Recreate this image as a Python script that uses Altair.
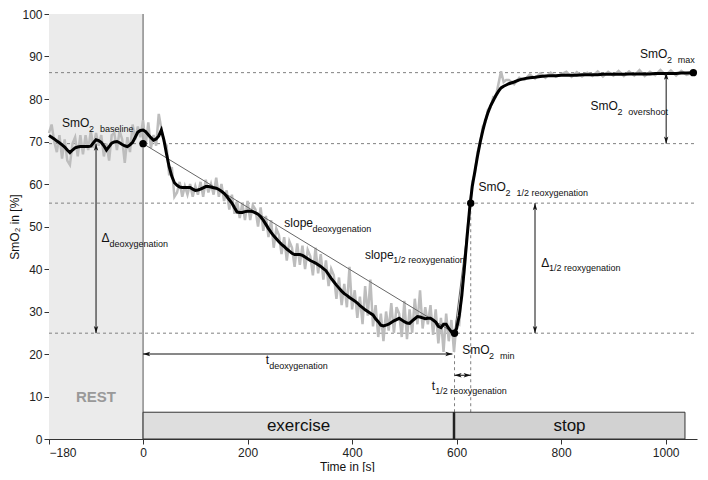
import altair as alt
import pandas as pd

XMIN, XMAX = -180, 1060
TOTAL_W, TOTAL_H = 692, 464
W, H = 657, 423  # approximate plot-area size, used only for subscript offsets

# ---------------- data ----------------
time_s = list(range(-180, 700, 5)) + list(range(700, 1050, 10)) + [1053]

smo2_smooth = [
    71.4, 71.0, 70.6, 70.1, 69.7, 69.2, 68.7, 68.0, 67.4, 68.0,
    68.5, 68.7, 68.8, 68.8, 68.8, 68.8, 68.9, 69.7, 70.4, 70.2,
    69.8, 69.0, 68.0, 68.8, 69.6, 69.9, 70.0, 69.7, 69.3, 69.0,
    68.8, 69.2, 69.8, 71.0, 72.2, 72.6, 72.7,
    72.3, 71.6, 70.9, 70.3, 70.6, 71.3, 72.7, 70.3, 67.0, 64.0, 61.8, 60.3,
    59.7, 59.3, 59.2, 59.2, 59.2, 59.2, 58.8, 58.5, 58.6, 58.8,
    59.1, 59.4, 59.4, 59.3, 59.1, 59.0, 58.7, 58.3, 57.8, 57.1,
    56.3, 55.5, 54.4, 53.4, 53.3, 53.3, 53.5, 53.6,
    53.6, 53.5, 53.2, 52.9, 52.3, 51.5, 50.5, 49.5, 48.6, 47.8,
    47.1, 46.4, 45.8, 45.3, 44.7, 44.2, 43.7, 43.4, 43.4, 43.4,
    43.2, 42.8, 42.4, 42.0, 41.7, 41.4, 41.0, 40.6, 40.1, 39.6,
    38.7, 37.8, 37.0, 36.2, 35.5, 34.8, 34.2, 33.8, 33.3, 32.9,
    32.5, 32.0, 31.4, 30.9, 30.4, 30.0, 29.6, 29.2, 28.3, 27.6,
    26.8, 26.6, 26.8, 27.0, 27.4, 27.8, 28.1, 28.4, 28.0, 27.6,
    27.3, 27.2, 27.8, 28.3, 28.8, 28.7, 28.5, 28.3, 28.4, 28.4,
    28.0, 27.5, 26.5, 26.2, 27.0, 27.0, 26.0, 25.2, 24.8, 26.0,
    29.0, 33.8, 40.5, 47.5, 54.3, 59.5, 63.0, 66.6, 69.8, 72.5,
    74.9, 76.8, 78.4, 79.6, 80.8, 81.8, 82.6, 83.0, 83.3,
    83.6, 84.0, 84.5, 84.8, 85.0, 85.1, 85.3, 85.4, 85.5, 85.5,
    85.6, 85.6, 85.6, 85.6, 85.7, 85.7, 85.7, 85.7, 85.8, 85.8,
    85.8, 85.8, 85.8, 85.9, 85.9, 85.9, 85.9, 85.9, 86.0, 86.0,
    86.0, 86.0, 86.0, 86.1, 86.1, 86.2,
]

smo2_raw = [
    72.0, 74.0, 70.0, 67.5, 71.5, 66.0, 70.5, 65.5, 64.5, 69.5,
    71.0, 66.5, 71.5, 67.0, 71.5, 68.0, 72.5, 68.5, 72.0, 69.0,
    71.5, 66.5, 69.5, 65.5, 71.5, 72.0, 68.0, 72.5, 70.5, 65.0,
    71.0, 67.5, 74.0, 70.5, 73.5, 71.0, 75.0,
    69.0, 74.5, 68.5, 71.5, 69.0, 76.5, 73.0, 70.0, 69.0, 62.0, 64.0, 57.0,
    58.0, 60.5, 57.0, 59.5, 57.5, 60.0, 57.0, 59.5, 57.5, 60.5,
    57.0, 61.0, 58.0, 60.0, 57.5, 61.5, 57.0, 60.0, 56.0, 58.5,
    54.0, 57.5, 53.0, 56.0, 52.0, 55.5, 51.5, 56.0,
    51.5, 55.0, 54.0, 50.0, 54.5, 49.0, 52.5, 47.5, 51.5, 45.0,
    49.5, 48.0, 43.5, 47.5, 42.0, 46.5, 45.0, 40.5, 46.0, 41.0,
    45.5, 40.0, 44.5, 43.0, 38.5, 45.0, 39.0, 43.5, 37.5, 42.0,
    36.0, 40.0, 38.5, 33.0, 38.0, 31.5, 36.5, 31.0, 40.5, 30.5,
    35.0, 28.5, 33.5, 27.0, 36.0, 29.0, 37.5, 26.5, 31.5, 24.0,
    29.5, 23.0, 30.0, 25.5, 32.0, 25.0, 31.0, 29.5, 24.0, 32.5,
    23.5, 30.5, 25.0, 33.0, 27.0, 35.0, 26.0, 31.0, 27.0, 31.5,
    24.5, 30.5, 22.5, 28.5, 20.5, 29.5, 23.0, 28.0, 20.5, 27.5,
    27.0, 35.0, 39.5, 48.5, 53.5, 60.5, 62.5, 67.5, 69.5, 73.5,
    74.5, 77.5, 78.0, 80.5, 80.5, 83.5, 86.5, 84.0, 84.5,
    84.5, 83.5, 85.0, 84.5, 85.8, 84.8, 86.0, 85.0, 86.2, 85.2,
    85.8, 86.4, 85.2, 86.3, 85.3, 86.2, 85.4, 86.5, 85.3, 86.4,
    85.5, 86.6, 85.4, 86.5, 85.5, 86.8, 85.4, 86.4, 85.6, 86.8,
    85.6, 86.7, 85.5, 86.6, 85.7, 86.2,
]

# characteristic levels (SmO2 %) and times (s)
level_names = ["max", "baseline", "half", "min"]
level_values = [86.2, 69.5, 55.5, 24.9]
t_min, t_half, t_max = 596, 627, 1053
exercise_end, stop_end = 595, 1037
bar_top = 6.3

phase_names = ["exercise", "stop"]
phase_start = [0, exercise_end]
phase_end = [exercise_end, stop_end]

key_t = [0, t_min, t_half, t_max]
key_v = [69.5, 24.9, 55.5, 86.2]

# ---------------- helpers ----------------
series = pd.DataFrame({"t": time_s, "raw": smo2_raw, "smooth": smo2_smooth})

FONT = "Liberation Sans"
x_scale = alt.Scale(domain=[XMIN, XMAX], nice=False, zero=False)
y_scale = alt.Scale(domain=[0, 100], nice=False, zero=False)
x_axis = alt.Axis(values=[-180, 0, 200, 400, 600, 800, 1000], title="Time in [s]", format="d",
                  grid=False, tickSize=5, labelPadding=3, titlePadding=3, titleX=298)
y_axis = alt.Axis(values=list(range(0, 101, 10)), title="SmO₂ in [%]", format="d",
                  grid=False, tickSize=5, labelPadding=2, titlePadding=0)


def X(f):
    return alt.X(f, type="quantitative", scale=x_scale, axis=x_axis)


def Y(f):
    return alt.Y(f, type="quantitative", scale=y_scale, axis=y_axis)


AW = {"S": 667, "m": 833, "O": 778, "s": 500, "l": 222, "o": 556, "p": 556,
      "e": 556, "Δ": 668, "t": 278, "2": 556}
PXX = W / (XMAX - XMIN)
PXY = H / 100.0


def tw(s, size):
    return sum(AW.get(c, 556) for c in s) * size / 1000.0


def label(x, y, main, subs):
    rows = [dict(x=x, y=y, text=main, size=12)]
    cx = x + tw(main, 12) / PXX
    sy = y - 4.5 / PXY
    for s in subs:
        rows.append(dict(x=cx, y=sy, text=s, size=9))
        cx += (tw(s, 9) + 6) / PXX
    return rows


texts = []
texts += label(-155.0, 73.3, "SmO", ["2", "baseline"])
texts += label(-79.4, 46.3, "Δ", ["deoxygenation"])
texts += label(270.3, 49.8, "slope", ["deoxygenation"])
texts += label(424.6, 42.4, "slope", ["1/2 reoxygenation"])
texts += label(235.0, 17.6, "t", ["deoxygenation"])
texts += label(610.6, 19.9, "SmO", ["2", "min"])
texts += label(552.6, 11.6, "t", ["1/2 reoxygenation"])
texts += label(761.8, 40.5, "Δ", ["1/2 reoxygenation"])
texts += label(642.0, 58.3, "SmO", ["2", "1/2 reoxygenation"])
texts += label(856.3, 77.3, "SmO", ["2", "overshoot"])
texts += label(950.9, 89.6, "SmO", ["2", "max"])
text_df = pd.DataFrame(texts)

# arrows: (x1, y1, x2, y2), heads on both ends
arrows = [
    (-90, 69.5, -90, 24.9),
    (0, 20, 592, 20),
    (t_min, 15, t_half, 15),
    (750, 55.5, 750, 24.9),
    (1001, 86.2, 1001, 69.5),
]
arrow_df = pd.DataFrame(arrows, columns=["x", "y", "x2", "y2"])
heads = []
for x1, y1, x2, y2 in arrows:
    if x1 == x2:
        heads.append(dict(x=x1, y=y1, a=0))
        heads.append(dict(x=x2, y=y2, a=180))
    else:
        heads.append(dict(x=x1, y=y1, a=270))
        heads.append(dict(x=x2, y=y2, a=90))
head_df = pd.DataFrame(heads)

# ---------------- layers ----------------
rest = alt.Chart(pd.DataFrame({"x": [XMIN], "x2": [0], "y": [0], "y2": [100]})).mark_rect(
    color="#ebebeb").encode(x=X("x"), x2="x2", y=Y("y"), y2="y2")

zero_line = alt.Chart(pd.DataFrame({"x": [0], "y": [0], "y2": [100]})).mark_rule(
    color="#555", strokeWidth=1).encode(x=X("x"), y=Y("y"), y2="y2")

hlines = alt.Chart(pd.DataFrame({"name": level_names, "y": level_values,
                                 "x": [XMIN] * 4, "x2": [XMAX] * 4})).mark_rule(
    color="#808080", strokeWidth=1, strokeDash=[3, 3]).encode(x=X("x"), x2="x2", y=Y("y"))

vlines = alt.Chart(pd.DataFrame({"x": [t_min, t_half], "y": [bar_top, bar_top],
                                 "y2": [24.9, 55.5]})).mark_rule(
    color="#808080", strokeWidth=1, strokeDash=[3, 3]).encode(x=X("x"), y=Y("y"), y2="y2")

bars = alt.Chart(pd.DataFrame({"phase": phase_names, "x": phase_start, "x2": phase_end,
                               "y": [0, 0], "y2": [bar_top, bar_top]})).mark_rect(
    stroke="#333", strokeWidth=1).encode(
    x=X("x"), x2="x2", y=Y("y"), y2="y2",
    color=alt.Color("phase:N", scale=alt.Scale(domain=phase_names, range=["#dedede", "#d2d2d2"]),
                    legend=None))

divider = alt.Chart(pd.DataFrame({"x": [exercise_end], "y": [0], "y2": [bar_top]})).mark_rule(
    color="#222", strokeWidth=2.5).encode(x=X("x"), y=Y("y"), y2="y2")

phase_text = alt.Chart(pd.DataFrame({"phase": phase_names,
                                     "xm": [(a + b) / 2 for a, b in zip(phase_start, phase_end)],
                                     "ym": [bar_top / 2] * 2})).mark_text(
    font=FONT, fontSize=17, color="#111", baseline="middle", align="center").encode(
    x=X("xm"), y=Y("ym"), text="phase")

rest_text = alt.Chart(pd.DataFrame({"x": [-90], "y": [10], "t": ["REST"]})).mark_text(
    font=FONT, fontSize=15, fontWeight="bold", color="#999", baseline="middle", align="center").encode(
    x=X("x"), y=Y("y"), text="t")

raw_line = alt.Chart(series).mark_line(color="#bdbdbd", strokeWidth=2.5).encode(
    x=X("t"), y=Y("raw"))

slopes = alt.Chart(pd.DataFrame({"x": [0, t_min], "y": [69.5, 24.9],
                                 "x2": [t_min, t_half], "y2": [24.9, 55.5]})).mark_rule(
    color="#666", strokeWidth=1).encode(x=X("x"), y=Y("y"), x2="x2", y2="y2")

smooth_line = alt.Chart(series).mark_line(color="black", strokeWidth=3).encode(
    x=X("t"), y=Y("smooth"))

dots = alt.Chart(pd.DataFrame({"x": key_t, "y": key_v})).mark_point(
    filled=True, color="black", size=55, opacity=1).encode(x=X("x"), y=Y("y"))

arrow_lines = alt.Chart(arrow_df).mark_rule(color="#111", strokeWidth=1).encode(
    x=X("x"), y=Y("y"), x2="x2", y2="y2")

arrow_heads = alt.Chart(head_df).mark_point(
    shape="M0,0L-0.8,2.6L0,2.0L0.8,2.6Z", filled=True, color="#111", size=30, opacity=1).encode(
    x=X("x"), y=Y("y"), angle=alt.Angle("a:Q", scale=None))

labels = alt.Chart(text_df).mark_text(
    font=FONT, color="#111", align="left", baseline="alphabetic").encode(
    x=X("x"), y=Y("y"), text="text", size=alt.Size("size:Q", scale=None, legend=None))

chart = alt.layer(
    rest, hlines, zero_line, vlines, bars, divider, phase_text, rest_text,
    raw_line, slopes, smooth_line, dots, arrow_lines, arrow_heads, labels
).properties(
    width=TOTAL_W, height=TOTAL_H, padding=0,
    autosize=alt.AutoSizeParams(type="fit", contains="padding")
).configure_axis(
    labelFont=FONT, titleFont=FONT, labelFontSize=12, titleFontSize=12,
    titleFontWeight="normal", domainColor="#333", tickColor="#333",
    labelColor="#222", titleColor="#111"
).configure_view(stroke=None)

chart.save("out.html", embed_options={"renderer": "svg", "actions": False})
